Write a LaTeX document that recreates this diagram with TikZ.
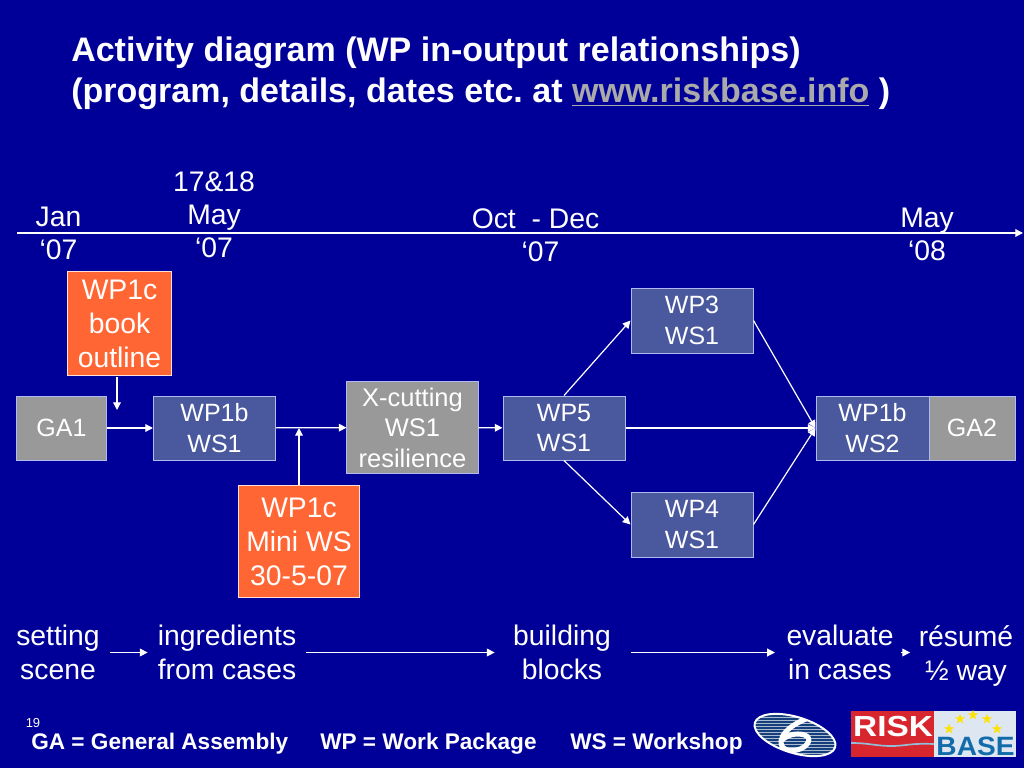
\documentclass[tikz,border=0pt]{standalone}
\usepackage{fontspec}
\setmainfont{Liberation Sans}
\usepackage{tikz}
\usetikzlibrary{arrows.meta,positioning,shapes.geometric,calc}
\definecolor{slidebg}{RGB}{0,0,153}
\definecolor{wpblue}{RGB}{74,88,158}
\definecolor{gaGray}{RGB}{153,153,153}
\definecolor{wporange}{RGB}{255,102,51}
\definecolor{edgeblue}{RGB}{176,186,240}
\definecolor{linkgray}{RGB}{170,170,170}
\definecolor{logored}{RGB}{215,38,46}
\definecolor{logopale}{RGB}{222,230,242}
\definecolor{logoblue}{RGB}{18,108,170}
\definecolor{sixblue}{RGB}{20,62,124}
\newcommand{\pxfont}[2]{\pgfmathsetlengthmacro\pxsize{#1*0.7113pt}\pgfmathsetlengthmacro\pxskip{#2*0.7113pt}\fontsize{\pxsize}{\pxskip}\selectfont}
\frenchspacing

\begin{document}
\begin{tikzpicture}[
    x=0.025cm, y=-0.025cm,
    box/.style={rectangle, draw=edgeblue, line width=0.7pt, inner sep=0pt, text=white, align=center, font=\pxfont{25}{30.5}},
    wpbox/.style={box, fill=wpblue, minimum width=3.05cm, minimum height=1.6cm},
    gabox/.style={box, fill=gaGray, minimum height=1.6cm},
    hotbox/.style={box, fill=wporange, draw=white!80!wporange, font=\pxfont{28.3}{34}},
    datelbl/.style={text=white, align=center, font=\pxfont{28.3}{33}},
    phase/.style={text=white, align=center, font=\pxfont{28.3}{34}, inner sep=0pt},
    legend/.style={text=white, anchor=west, inner sep=0pt, font=\pxfont{22.6}{27}\bfseries},
    flow/.style={-{Triangle[length=5.5pt,width=5.5pt]}, white, line width=0.85pt},
    >=Stealth
]
    \useasboundingbox (0,0) rectangle (1024,768);
    \fill[slidebg] (0,0) rectangle (1024,768);

    % Title
    \node[text=white, anchor=north west, inner sep=0pt, align=left, font=\pxfont{34}{41}\bfseries] (title) at (71,37)
        {Activity diagram (WP in-output relationships)\\(program, details, dates etc. at \textcolor{linkgray}{\underline{www.riskbase.info}} )};

    % Timeline
    \coordinate (tstart) at (17,233);
    \coordinate (tend) at (1023,233);
    \draw[flow] (tstart) -- (tend);
    \node[datelbl] (jan) at (58.5,233) {Jan\\‘07};
    \node[datelbl] (may07) at (214,215) {17\&18\\May\\‘07};
    \node[datelbl] (oct) at (535.5,235) {Oct~ - Dec\\\hspace{0.25cm}‘07};
    \node[datelbl] (may08) at (927,234) {May\\‘08};

    % Boxes
    \node[gabox, minimum width=2.225cm] (ga1) at (61.5,428) {GA1};
    \node[wpbox] (wp1b) at (214.5,428) {WP1b\\WS1};
    \node[hotbox, minimum width=2.575cm, minimum height=2.575cm] (book) at (119.5,323.5) {WP1c\\book\\outline};
    \node[box, fill=gaGray, font=\pxfont{25.5}{30.5}, minimum width=3.275cm, minimum height=2.275cm] (xcut) at (412.5,427.5) {X-cutting\\WS1\\resilience};
    \node[hotbox, minimum width=3cm, minimum height=2.775cm] (mini) at (299,541.5) {WP1c\\Mini WS\\30-5-07};
    \node[wpbox] (wp5) at (564,428) {WP5\\WS1};
    \node[wpbox, minimum height=1.625cm] (wp3) at (692,320.5) {WP3\\WS1};
    \node[wpbox, minimum height=1.625cm] (wp4) at (692,524.5) {WP4\\WS1};
    \node[gabox, minimum width=2.15cm] (ga2) at (972,428) {GA2};
    \node[wpbox, minimum width=2.825cm] (wp1bb) at (872.5,428) {WP1b\\WS2};

    % Free ends
    \coordinate (bookstart) at (117,377);
    \coordinate (bookend) at (117,410);
    \coordinate (minijoin) at (299,428);

    % Arrows
    \draw[flow] (bookstart) -- (bookend);
    \draw[flow] (ga1) -- (wp1b);
    \draw[flow] (wp1b) -- (xcut);
    \draw[flow] (mini.north) -- (minijoin);
    \draw[flow] (xcut) -- (wp5);
    \draw[flow] (wp5.north) -- (wp3.west);
    \draw[flow] (wp5.south) -- (wp4.west);
    \draw[flow] (wp5.east) -- (wp1bb.west);
    \draw[flow] (wp3.east) -- (wp1bb.west);
    \draw[flow] (wp4.east) -- (wp1bb.west);

    % Phases
    \node[phase] (setting) at (58,652.5) {setting\\scene};
    \node[phase] (ingred) at (227,652.5) {ingredients\\from cases};
    \node[phase] (blocks) at (562,652.5) {building\\blocks};
    \node[phase] (evalcase) at (840,652.5) {evaluate\\in cases};
    \node[phase] (resume) at (966,656) {résumé\\½ way};
    \draw[flow, shorten <=7pt, shorten >=7pt] (setting) -- (ingred);
    \draw[flow, shorten <=7pt, shorten >=13pt] (ingred) -- (blocks);
    \draw[flow, shorten <=14pt, shorten >=8pt] (blocks) -- (evalcase);
    \draw[flow, shorten <=5pt, shorten >=6pt] (evalcase.east) -- (evalcase.east -| resume.west);

    % Footer
    \node[text=white, inner sep=0pt, font=\pxfont{13}{15}] (pageno) at (33,723) {19};
    \node[legend] (lga) at (31,744) {GA = General Assembly};
    \node[legend] (lwp) at (320,744) {WP = Work Package};
    \node[legend] (lws) at (570,744) {WS = Workshop};

    % Six logo
    \fill[sixblue, rotate around={-17:(795,735)}] (795,735) ellipse [x radius=42, y radius=18];
    \begin{scope}
        \clip[rotate around={-17:(795,735)}] (795,735) ellipse [x radius=42, y radius=18];
        \foreach \yy in {714,717,...,758}
            \draw[white!65!sixblue, line width=0.7pt] (750,\yy) -- (840,\yy);
        \draw[white, line width=3.6pt] (824,714) .. controls (805,717) and (783,728) .. (781,741)
            .. controls (780,752) and (795,753) .. (804,747)
            .. controls (812,741) and (810,734) .. (798,734)
            .. controls (790,734) and (785,737) .. (781,741);
    \end{scope}
    \draw[white, line width=1.4pt, rotate around={-17:(795,735)}] (795,735) ellipse [x radius=42, y radius=18];

    % Risk base logo
    \fill[logored] (851,711) rectangle (934,757);
    \fill[logopale] (934,711) rectangle (1016,757);
    \node[white, inner sep=0pt, xscale=1.15, font=\pxfont{29}{29}\bfseries] (risk) at (893,726.5) {RISK};
    \draw[white!55!logoblue, line width=1.2pt] (851,743) .. controls (870,743) and (875,746) .. (892,746) .. controls (905,746) and (910,743) .. (934,744);
    \node[logoblue, inner sep=0pt, xscale=1.06, font=\pxfont{26.5}{27}\bfseries] (base) at (975.5,746.5) {BASE};
    \foreach \sx/\sy in {949/729, 960/719, 973/715, 987/719, 997/729}
        \node[star, star points=5, star point ratio=2.4, fill=yellow!85!orange, inner sep=0pt, minimum size=7.5pt] at (\sx,\sy) {};
\end{tikzpicture}
\end{document}
